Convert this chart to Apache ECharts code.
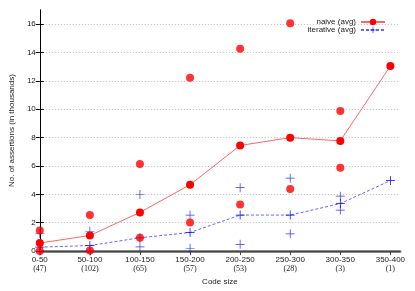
<!DOCTYPE html>
<html><head><meta charset="utf-8">
<script src="https://cdn.jsdelivr.net/npm/echarts@6/dist/echarts.min.js"></script>
<style>html,body{margin:0;padding:0;background:#fff}#c{width:415px;height:291px}</style>
</head><body><div id="c"></div>
<script>
var categories = ['0-50','50-100','100-150','150-200','200-250','250-300','300-350','350-400'];
var counts = ['(47)','(102)','(65)','(57)','(53)','(28)','(3)','(1)'];
var naiveAvg = [0.57,1.10,2.73,4.68,7.45,8.00,7.77,13.05];
var naiveMax = [1.46,2.54,6.14,12.22,14.26,16.07,9.88,null];
var naiveMin = [0,0.05,0.94,2.02,3.28,4.38,5.87,null];
var iterAvg = [0.28,0.39,0.94,1.31,2.54,2.54,3.35,4.97];
var iterMax = [1.24,1.40,3.99,2.54,4.47,5.14,3.87,null];
var iterMin = [0,0,0.30,0.20,0.48,1.22,2.89,null];
var yTicks = [0,2,4,6,8,10,12,14,16];

function pts(arr){var o=[];arr.forEach(function(v,i){if(v!==null)o.push([i,v]);});return o;}
var xIdx = categories.map(function(c,i){return i;});
var plus = 'path://M4.6,0H5.4V4.6H10V5.4H5.4V10H4.6V5.4H0V4.6H4.6Z';
var font = 'Liberation Sans, Arial, sans-serif';
var chart = echarts.init(document.getElementById('c'));
chart.setOption({
  animation:false,
  textStyle:{fontFamily:font},
  grid:{left:26,top:10,right:15,bottom:34},
  legend:{
    right:24, top:13, orient:'vertical', align:'right',
    itemWidth:24, itemHeight:8, itemGap:0,
    textStyle:{fontSize:8, color:'#222', fontFamily:font, lineHeight:8, padding:[0,0,0,0]},
    data:['naive (avg)','iterative (avg)']
  },
  xAxis:[{
    type:'value', min:0, max:374/52, position:'bottom',
    name:'Code size', nameLocation:'middle', nameGap:24,
    nameTextStyle:{fontSize:8, color:'#222', fontFamily:font},
    axisLine:{show:true, onZero:false, lineStyle:{color:'#888', width:3}},
    axisTick:{show:false},
    splitLine:{show:false},
    axisLabel:{customValues:xIdx, fontSize:8, color:'#222', margin:4, lineHeight:9,
      formatter:function(v){var i=Math.round(v);return categories[i]+'\n{c|'+counts[i]+'}';},
      rich:{c:{fontFamily:'Liberation Serif, Times New Roman, serif', fontSize:8, color:'#222', lineHeight:9}}}
  },{
    type:'value', min:0, max:374/52, position:'top',
    axisLine:{show:true, lineStyle:{color:'#444', width:1}},
    axisTick:{show:true, inside:true, length:4, customValues:xIdx, lineStyle:{color:'#444'}},
    axisLabel:{show:false}, splitLine:{show:false}
  }],
  yAxis:[{
    type:'value', min:0, max:17, interval:2, position:'left',
    name:'No. of assertions (in thousands)', nameLocation:'middle', nameGap:10,
    nameTextStyle:{fontSize:8, color:'#222', fontFamily:font},
    axisLine:{show:true, lineStyle:{color:'#000', width:1}},
    axisTick:{show:true, inside:true, length:4, customValues:yTicks, lineStyle:{color:'#000'}},
    axisLabel:{customValues:yTicks, fontSize:8, color:'#222', margin:4},
    splitLine:{show:true, lineStyle:{color:'#bbb', type:[1,2], width:1}}
  },{
    type:'value', min:0, max:17, interval:2, position:'right',
    axisLine:{show:true, lineStyle:{color:'#000', width:1}},
    axisTick:{show:true, inside:true, length:4, customValues:yTicks, lineStyle:{color:'#000'}},
    axisLabel:{show:false}, splitLine:{show:false}
  }],
  series:[
    {name:'naive (avg)', type:'line', data:pts(naiveAvg), symbol:'circle', symbolSize:8,
     itemStyle:{color:'#ff0000'}, lineStyle:{color:'#ff6666', width:1}, z:5},
    {name:'iterative (avg)', type:'line', data:pts(iterAvg), symbol:plus, symbolSize:9,
     itemStyle:{color:'#0000ff'}, lineStyle:{color:'#6666ff', width:1, type:[3,2]}, z:4},
    {name:'naive max', type:'scatter', data:pts(naiveMax), symbol:'circle', symbolSize:8, itemStyle:{color:'#ff0000'}, z:5},
    {name:'naive min', type:'scatter', data:pts(naiveMin), symbol:'circle', symbolSize:8, itemStyle:{color:'#ff0000'}, z:5},
    {name:'iter max', type:'scatter', data:pts(iterMax), symbol:plus, symbolSize:9, itemStyle:{color:'#0000ff'}, z:4},
    {name:'iter min', type:'scatter', data:pts(iterMin), symbol:plus, symbolSize:9, itemStyle:{color:'#0000ff'}, z:4}
  ]
});
</script></body></html>
